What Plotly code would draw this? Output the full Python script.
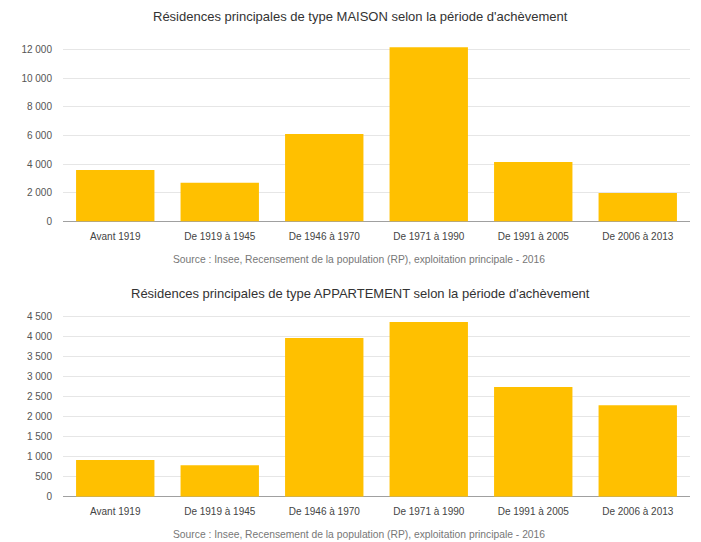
import plotly.graph_objects as go

categories = ["Avant 1919", "De 1919 à 1945", "De 1946 à 1970", "De 1971 à 1990", "De 1991 à 2005", "De 2006 à 2013"]
maison = [3600, 2700, 6100, 12150, 4150, 2000]
appartement = [920, 790, 3970, 4370, 2740, 2290]

title_maison = "Résidences principales de type MAISON selon la période d'achèvement"
title_appart = "Résidences principales de type APPARTEMENT selon la période d'achèvement"
source = "Source : Insee, Recensement de la population (RP), exploitation principale - 2016"

bar_color = "#FFC000"
font_family = "Liberation Sans, Arial, sans-serif"

fig = go.Figure()
fig.add_trace(go.Bar(x=categories, y=maison, marker=dict(color=bar_color, line=dict(width=0)),
                     xaxis="x", yaxis="y", hoverinfo="x+y"))
fig.add_trace(go.Bar(x=categories, y=appartement, marker=dict(color=bar_color, line=dict(width=0)),
                     xaxis="x2", yaxis="y2", hoverinfo="x+y"))

# page offset (body margin) and observed vertical scale of the photograph
OFF = 8
K = 0.988
W = 693.0
H = 541.0

def py(p):
    return 1 - (p / K - OFF) / H

def px(p):
    return (p - OFF) / W

xaxis_common = dict(showline=False, ticks="", ticklabelstandoff=7,
                    tickfont=dict(size=10, color="#444444", family=font_family))
yaxis_common = dict(showgrid=True, gridcolor="#E6E6E6", gridwidth=1, zeroline=True, zerolinecolor="#A0A0A0",
                    zerolinewidth=1, ticks="", ticklabelstandoff=10,
                    tickfont=dict(size=10, color="#555555", family=font_family),
                    tickformat=",d", showline=False)

fig.update_layout(
    width=int(W), height=int(H),
    margin=dict(l=0, r=0, t=0, b=0),
    paper_bgcolor="white", plot_bgcolor="white",
    showlegend=False,
    separators=", ",
    bargap=0.25,
    font=dict(family=font_family),
    xaxis=dict(domain=[px(63), px(690)], anchor="y", **xaxis_common),
    yaxis=dict(domain=[py(219.5), py(43.5)], anchor="x", range=[0, 12200], dtick=2000, **yaxis_common),
    xaxis2=dict(domain=[px(63), px(690)], anchor="y2", **xaxis_common),
    yaxis2=dict(domain=[py(496), py(311)], anchor="x2", range=[0, 4600], dtick=500, **yaxis_common),
    annotations=[
        dict(text=title_maison, x=px(360), y=py(13), xref="paper", yref="paper", showarrow=False,
             font=dict(size=13, color="#333333"), xanchor="center", yanchor="middle"),
        dict(text=source, x=px(359), y=py(258), xref="paper", yref="paper", showarrow=False,
             font=dict(size=10.3, color="#777777"), xanchor="center", yanchor="middle"),
        dict(text=title_appart, x=px(360), y=py(292), xref="paper", yref="paper", showarrow=False,
             font=dict(size=13, color="#333333"), xanchor="center", yanchor="middle"),
        dict(text=source, x=px(359), y=py(534), xref="paper", yref="paper", showarrow=False,
             font=dict(size=10.3, color="#777777"), xanchor="center", yanchor="middle"),
    ],
)

fig.write_html("out.html")
